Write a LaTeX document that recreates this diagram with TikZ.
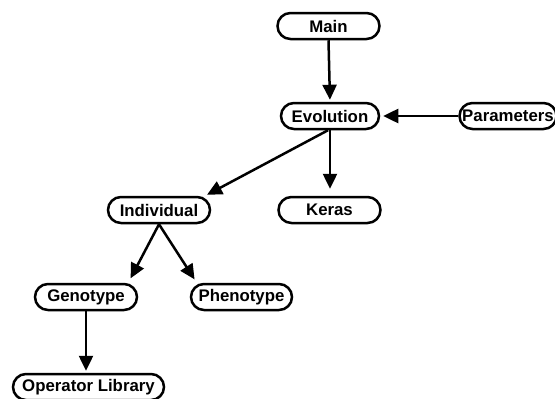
\documentclass[tikz,border=0pt]{standalone}
\usepackage{fontspec}
\setmainfont{Liberation Sans}
\usetikzlibrary{arrows.meta}
\begin{document}
\begin{tikzpicture}[x=1pt,y=-1pt,
  module/.style={draw, line width=2.5pt, rounded corners=13pt, minimum height=26pt,
    inner sep=0pt, font=\fontsize{16.8}{18}\selectfont\bfseries, fill=white},
  link/.style={line width=2.5pt, -{Triangle[length=15pt,width=14pt]}}]
\useasboundingbox (0,0) rectangle (555,399);
\node[module, minimum width=102pt] (main) at (328.5,26) {Main};
\node[module, minimum width=98pt] (evol) at (330,116) {Evolution};
\node[module, minimum width=97pt] (params) at (508,116) {Parameters};
\node[module, minimum width=102pt] (keras) at (329.5,210) {Keras};
\node[module, minimum width=102pt] (indiv) at (159,210) {Individual};
\node[module, minimum width=102pt] (geno) at (86,297) {Genotype};
\node[module, minimum width=101pt] (pheno) at (241.5,297) {Phenotype};
\node[module, minimum width=151pt] (oplib) at (88.5,387) {Operator Library};
\draw[link, shorten >=2pt] (main.south) -- (evol.north);
\draw[link, shorten >=3pt] (params.west) -- (evol.east);
\draw[link, shorten >=7pt] (evol.south) -- (evol.south |- keras.north);
\draw[link, shorten >=2pt] ([xshift=-2pt]evol.south) -- ([xshift=-6pt]indiv.north east);
\draw[link, shorten >=5pt] (indiv.south) -- ([xshift=-10pt]geno.north east);
\draw[link, shorten >=4pt] (indiv.south) -- ([xshift=7pt]pheno.north west);
\draw[link, shorten >=2pt] (geno.south) -- (geno.south |- oplib.north);
\end{tikzpicture}
\end{document}
